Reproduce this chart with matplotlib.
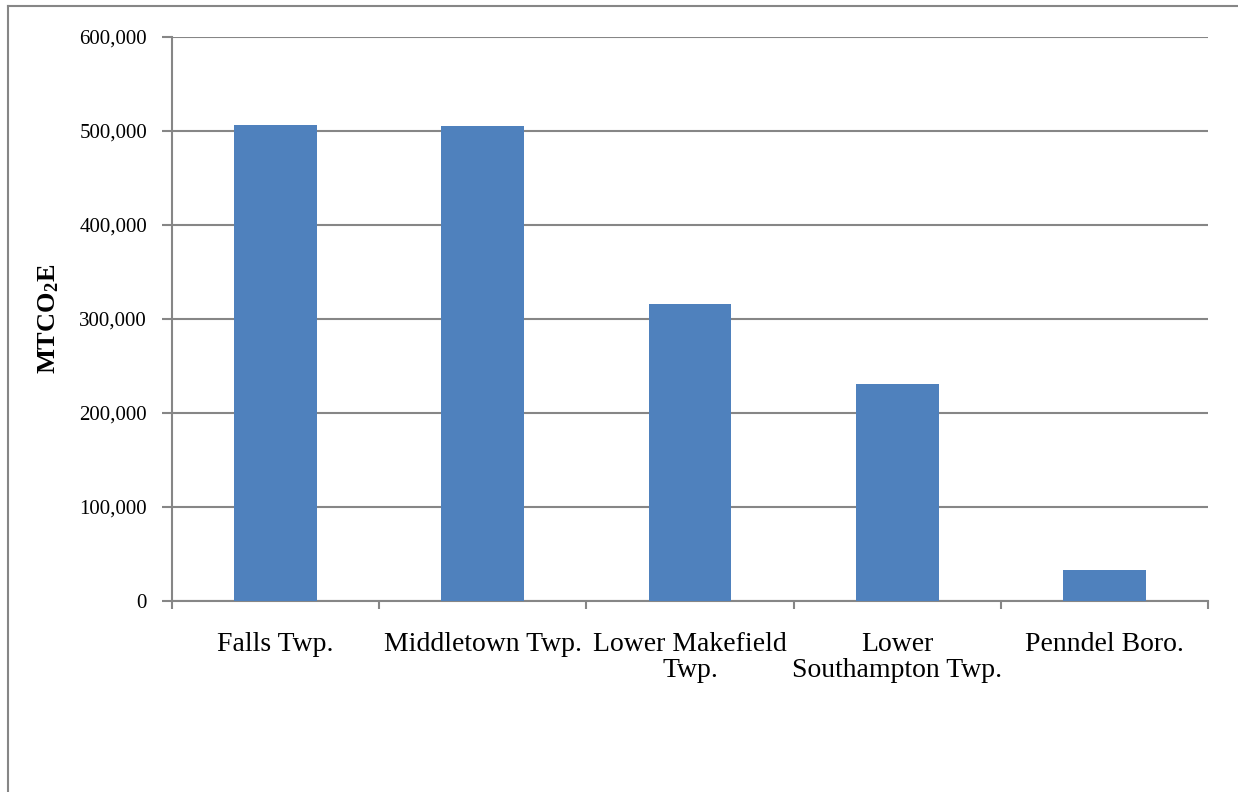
import matplotlib.pyplot as plt
import numpy as np
from matplotlib.lines import Line2D
from matplotlib.ticker import FuncFormatter

plt.rcParams["font.family"] = ["Liberation Serif", "DejaVu Serif"]
plt.rcParams["mathtext.fontset"] = "custom"
plt.rcParams["mathtext.rm"] = "Liberation Serif"
plt.rcParams["mathtext.bf"] = "Liberation Serif:bold"

municipalities = ["Falls Twp.", "Middletown Twp.", "Lower Makefield\nTwp.",
                  "Lower\nSouthampton Twp.", "Penndel Boro."]
emissions = [506400, 505400, 316000, 230800, 33500]
y_ticks = [0, 100000, 200000, 300000, 400000, 500000, 600000]

GRID = "#868686"
BAR = "#4F81BD"

fig = plt.figure(figsize=(12.38, 7.92), dpi=100)
ax = fig.add_axes([172 / 1238, 1 - 601 / 792, 1036 / 1238, 564 / 792])

x = np.arange(len(municipalities))
ax.bar(x, emissions, width=0.4, color=BAR, zorder=3)

ax.set_xlim(-0.5, len(municipalities) - 0.5)
ax.set_ylim(0, 600000)
ax.set_yticks(y_ticks)
ax.yaxis.set_major_formatter(FuncFormatter(lambda v, _: f"{v:,.0f}"))
ax.grid(axis="y", color=GRID, lw=1.5, zorder=0)

# category labels at bar centres, tick marks on the boundaries
ax.set_xticks(x)
ax.set_xticklabels(municipalities, fontsize=20, linespacing=1.05)
ax.set_xticks(np.arange(len(municipalities) + 1) - 0.5, minor=True)
ax.tick_params(axis="x", which="major", length=0, pad=22)
ax.tick_params(axis="x", which="minor", length=6, width=1.5, color=GRID)
ax.tick_params(axis="y", length=7, width=1.5, color=GRID, labelsize=15, pad=11)

for side in ("top", "right"):
    ax.spines[side].set_visible(False)
for side in ("left", "bottom"):
    ax.spines[side].set_color(GRID)
    ax.spines[side].set_linewidth(1.5)

ax.set_ylabel(r"$\mathbf{MTCO_2E}$", fontsize=19)
ax.yaxis.set_label_coords(61 / 1238, 1 - 319 / 792, transform=fig.transFigure)

# chart area border (left and top edges)
fig.add_artist(Line2D([8 / 1238, 8 / 1238], [0, 1 - 6 / 792], color=GRID, lw=1.5))
fig.add_artist(Line2D([8 / 1238, 1], [1 - 6 / 792, 1 - 6 / 792], color=GRID, lw=1.5))

fig.savefig("out.png", dpi=100)
